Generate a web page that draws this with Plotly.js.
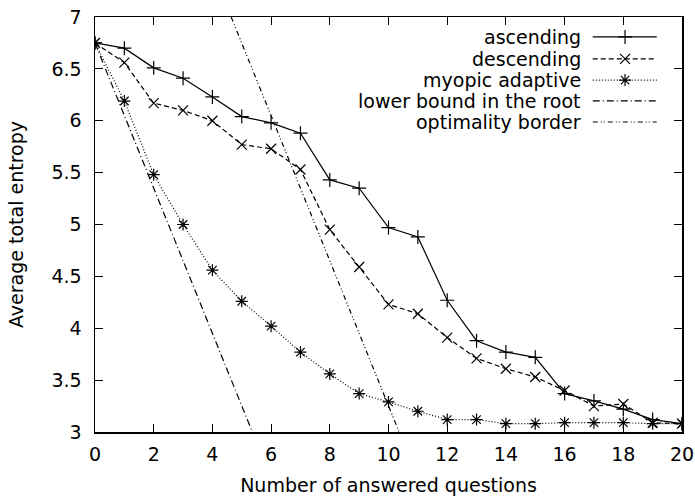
<!DOCTYPE html>
<html>
<head>
<meta charset="utf-8">
<script src="https://cdn.plot.ly/plotly-3.0.1.min.js"></script>
<style>html,body{margin:0;padding:0;background:#fff;}#chart{width:695px;height:496px;}</style>
</head>
<body>
<div id="chart"></div>
<script>
const questions = [0,1,2,3,4,5,6,7,8,9,10,11,12,13,14,15,16,17,18,19,20];
const ascending = [6.75,6.70,6.51,6.41,6.23,6.04,5.98,5.88,5.43,5.35,4.97,4.88,4.27,3.88,3.77,3.72,3.37,3.30,3.22,3.12,3.08];
const descending = [6.75,6.56,6.17,6.10,6.00,5.77,5.73,5.53,4.95,4.59,4.23,4.14,3.91,3.71,3.61,3.53,3.40,3.25,3.27,3.09,3.08];
const myopic = [6.75,6.19,5.48,5.00,4.56,4.26,4.02,3.77,3.56,3.37,3.29,3.20,3.12,3.12,3.08,3.08,3.09,3.09,3.09,3.08,3.08];
const lowerBoundX = [0, 5.36];
const lowerBoundY = [6.75, 3.0];
const optimalityX = [4.64, 10.36];
const optimalityY = [7.0, 3.0];
const seriesNames = ["ascending","descending","myopic adaptive","lower bound in the root","optimality border"];
const xTicks = [0,2,4,6,8,10,12,14,16,18,20];
const yTicks = [3,3.5,4,4.5,5,5.5,6,6.5,7];

const FONT = "DejaVu Sans, Liberation Sans, Arial, sans-serif";
const FS = 19;
const dashes = ["solid", "5px,3px", "1px,2px", "7px,3px,1px,3px", "5px,3px,1px,2px,1px,3px"];
const symbols = ["cross-thin-open", "x-thin-open", "asterisk-open", null, null];
const lw = 1.2;

function series(y, i) {
  return {x: questions, y: y, type: "scatter", mode: "lines+markers", name: seriesNames[i],
    line: {color: "#000", width: lw, dash: dashes[i]},
    marker: {symbol: symbols[i], size: 10, color: "#000", line: {color: "#000", width: 1.2}},
    showlegend: false, cliponaxis: true};
}
const traces = [
  series(ascending, 0),
  series(descending, 1),
  series(myopic, 2),
  {x: lowerBoundX, y: lowerBoundY, type: "scatter", mode: "lines", name: seriesNames[3],
    line: {color: "#000", width: lw, dash: dashes[3]}, showlegend: false},
  {x: optimalityX, y: optimalityY, type: "scatter", mode: "lines", name: seriesNames[4],
    line: {color: "#000", width: lw, dash: dashes[4]}, showlegend: false}
];

// custom gnuplot-style legend (text right, sample at right)
const rowY = [0.952, 0.899, 0.848, 0.798, 0.747];
const annotations = [];
const shapes = [];
seriesNames.forEach((nm, i) => {
  annotations.push({xref: "paper", yref: "paper", x: 0.832, y: rowY[i], xanchor: "right", yanchor: "middle",
    text: nm, showarrow: false, font: {family: FONT, size: FS, color: "#000"}});
  shapes.push({type: "line", xref: "paper", yref: "paper", x0: 0.848, x1: 0.957, y0: rowY[i], y1: rowY[i],
    line: {color: "#000", width: lw, dash: dashes[i]}});
  if (symbols[i]) {
    traces.push({x: [0.903], y: [rowY[i]], xaxis: "x2", yaxis: "y2", type: "scatter", mode: "markers",
      marker: {symbol: symbols[i], size: 10, color: "#000", line: {color: "#000", width: 1.2}},
      showlegend: false, hoverinfo: "skip"});
  }
});

const layout = {
  width: 695, height: 496,
  margin: {l: 95, r: 13, t: 17, b: 64},
  paper_bgcolor: "#fff", plot_bgcolor: "#fff",
  font: {family: FONT, size: FS, color: "#000"},
  showlegend: false,
  xaxis: {range: [0, 20], tickvals: xTicks, ticks: "inside", ticklen: 8, tickwidth: 1, tickcolor: "#000",
    showline: true, linecolor: "#000", linewidth: 1.5, mirror: "allticks", showgrid: false, zeroline: false,
    tickfont: {family: FONT, size: FS}, ticklabelstandoff: 5,
    title: {text: "Number of answered questions", font: {family: FONT, size: FS}, standoff: 15}},
  yaxis: {range: [3, 7], tickvals: yTicks, ticks: "inside", ticklen: 8, tickwidth: 1, tickcolor: "#000",
    showline: true, linecolor: "#000", linewidth: 1.5, mirror: "allticks", showgrid: false, zeroline: false,
    tickfont: {family: FONT, size: FS}, ticklabelstandoff: 8,
    title: {text: "Average total entropy", font: {family: FONT, size: FS}, standoff: 23}},
  xaxis2: {range: [0, 1], overlaying: "x", visible: false, fixedrange: true},
  yaxis2: {range: [0, 1], overlaying: "y", visible: false, fixedrange: true},
  annotations: annotations,
  shapes: shapes
};
Plotly.newPlot("chart", traces, layout, {displayModeBar: false, staticPlot: true});
</script>
</body>
</html>
